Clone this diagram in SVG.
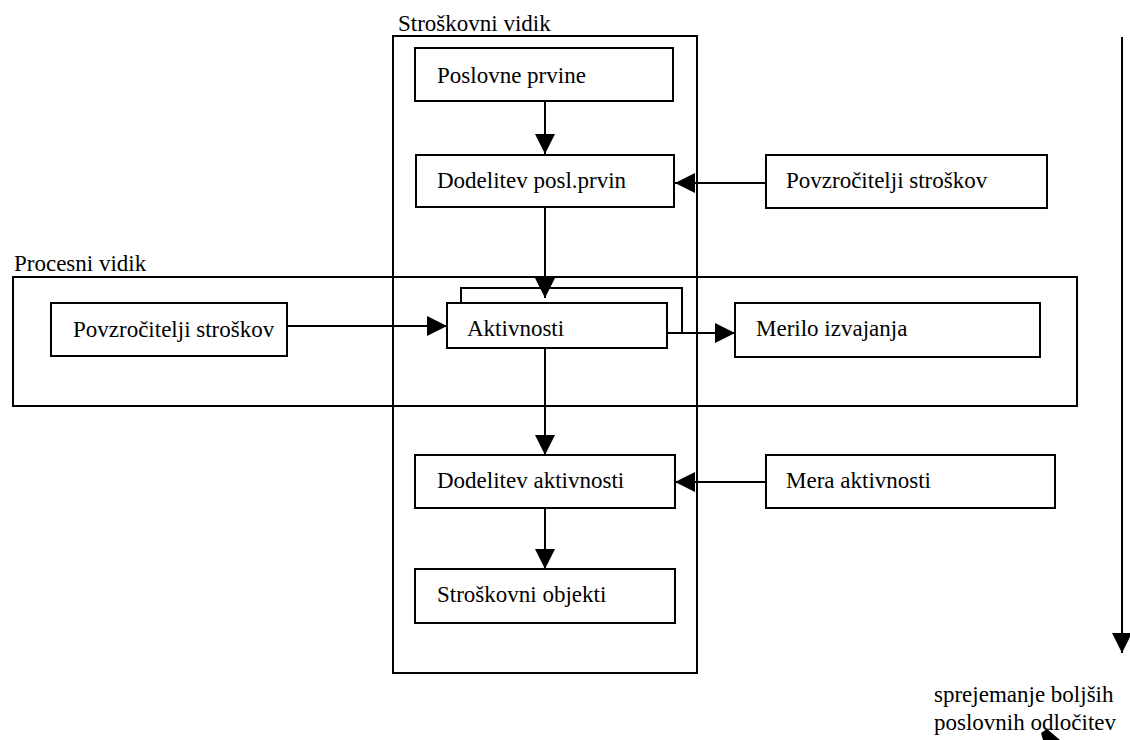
<svg xmlns="http://www.w3.org/2000/svg" width="1130" height="740" viewBox="0 0 1130 740">
<defs>
<style>
.box{fill:#fff;stroke:#000;stroke-width:2}
.frame{fill:none;stroke:#000;stroke-width:2}
.ln{fill:none;stroke:#000;stroke-width:2}
text{font-family:"Liberation Serif","Times New Roman",serif;font-size:23px;fill:#000}
</style>
<marker id="ah" markerUnits="userSpaceOnUse" markerWidth="20" markerHeight="20" refX="20" refY="10" orient="auto" viewBox="0 0 20 20">
<path d="M0,0 L20,10 L0,20 z" fill="#000"/>
</marker>
</defs>
<rect width="1130" height="740" fill="#fff"/>
<g id="stroskovni-vidik">
<rect class="frame" x="393" y="36" width="304" height="637"/>
<text x="398" y="31">Stroškovni vidik</text>
</g>
<g id="procesni-vidik">
<rect class="frame" x="13" y="277" width="1064" height="129"/>
<text x="14" y="271">Procesni vidik</text>
</g>
<g id="connectors">
<line class="ln" x1="545" y1="101" x2="545" y2="154" marker-end="url(#ah)"/>
<line class="ln" x1="766" y1="183" x2="675" y2="183" marker-end="url(#ah)"/>
<line class="ln" x1="545" y1="207" x2="545" y2="298" marker-end="url(#ah)"/>
<line class="ln" x1="287" y1="326" x2="447" y2="326" marker-end="url(#ah)"/>
<polyline class="ln" points="461,303 461,288 682,288 682,333"/>
<line class="ln" x1="667" y1="333" x2="735" y2="333" marker-end="url(#ah)"/>
<line class="ln" x1="545" y1="348" x2="545" y2="455" marker-end="url(#ah)"/>
<line class="ln" x1="766" y1="482" x2="675" y2="482" marker-end="url(#ah)"/>
<line class="ln" x1="545" y1="508" x2="545" y2="569" marker-end="url(#ah)"/>
<line class="ln" x1="1122" y1="37" x2="1122" y2="653" marker-end="url(#ah)"/>
<polygon points="1041,733 1047,729 1060,740 1043,740" fill="#000"/>
</g>
<g id="poslovne-prvine">
<rect class="box" x="415" y="48" width="258" height="53"/>
<text x="437" y="83">Poslovne prvine</text>
</g>
<g id="dodelitev-posl-prvin">
<rect class="box" x="416" y="155" width="258" height="52"/>
<text x="437" y="188">Dodelitev posl.prvin</text>
</g>
<g id="povzrocitelji-desno">
<rect class="box" x="766" y="155" width="281" height="53"/>
<text x="786" y="188">Povzročitelji stroškov</text>
</g>
<g id="povzrocitelji-levo">
<rect class="box" x="51" y="303" width="236" height="53"/>
<text x="73" y="337">Povzročitelji stroškov</text>
</g>
<g id="aktivnosti">
<rect class="box" x="447" y="303" width="220" height="45"/>
<text x="467" y="336">Aktivnosti</text>
</g>
<g id="merilo-izvajanja">
<rect class="box" x="735" y="303" width="305" height="54"/>
<text x="756" y="336">Merilo izvajanja</text>
</g>
<g id="dodelitev-aktivnosti">
<rect class="box" x="415" y="455" width="260" height="53"/>
<text x="437" y="488">Dodelitev aktivnosti</text>
</g>
<g id="mera-aktivnosti">
<rect class="box" x="766" y="455" width="289" height="53"/>
<text x="786" y="488">Mera aktivnosti</text>
</g>
<g id="stroskovni-objekti">
<rect class="box" x="415" y="569" width="260" height="54"/>
<text x="437" y="602">Stroškovni objekti</text>
</g>
<g id="odlocitve">
<text x="934" y="702">sprejemanje boljših</text>
<text x="934" y="730">poslovnih odločitev</text>
</g>
</svg>
